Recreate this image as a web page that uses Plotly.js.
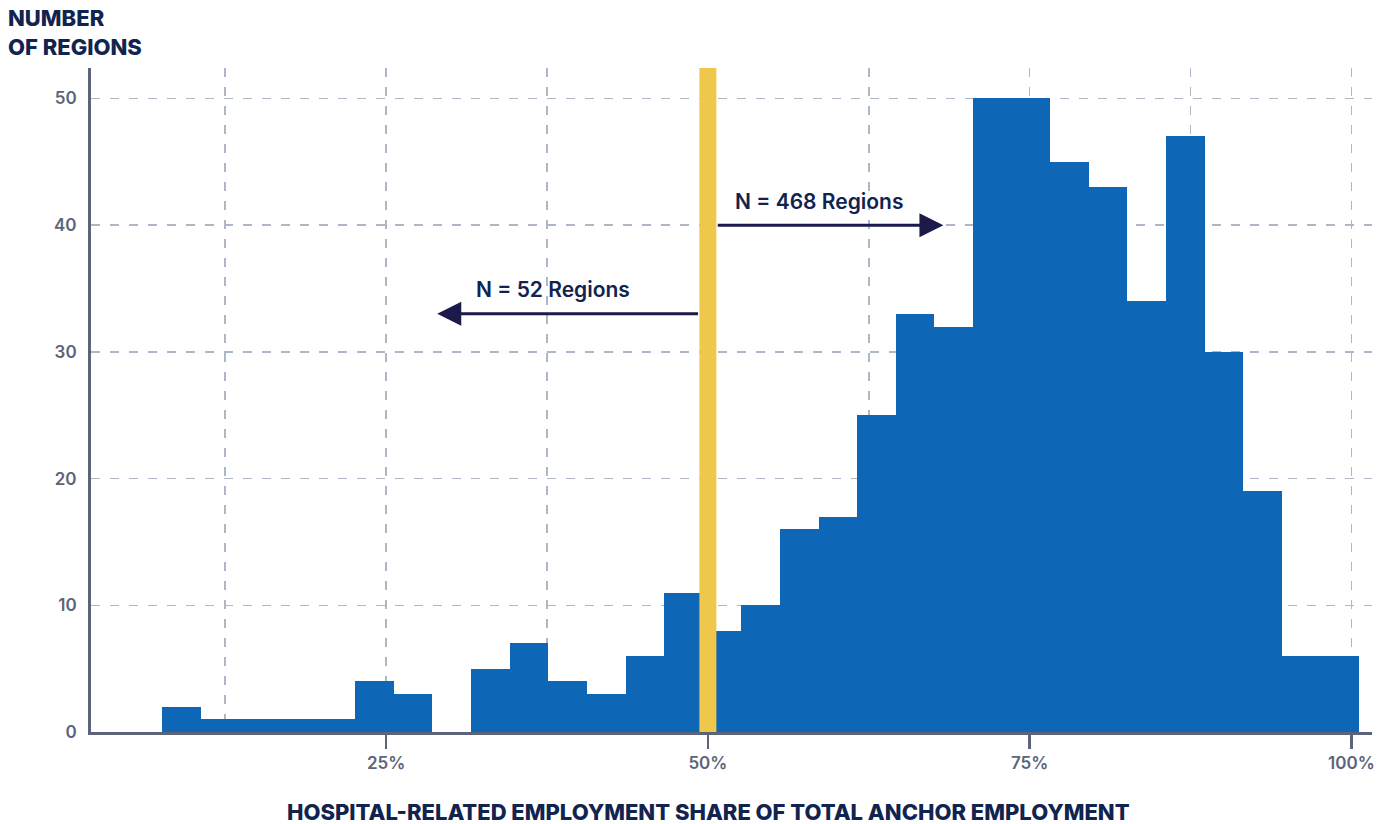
<!DOCTYPE html>
<html>
<head>
<meta charset="utf-8">
<script src="https://cdn.plot.ly/plotly-3.0.1.min.js"></script>
<style>
  html, body { margin: 0; padding: 0; background: #ffffff; }
  #chart { width: 1387px; height: 824px; }
</style>
</head>
<body>
<div id="chart"></div>
<script>
// Histogram of regions by hospital-related share of anchor employment
const binStart = 7.6;          // left edge of the first bin (%)
const binWidth = 3;            // bin width (percentage points)
const regionCounts = [2, 1, 1, 1, 1, 4, 3, 0, 5, 7, 4, 3, 6, 11,
                      8, 10, 16, 17, 25, 33, 32, 50, 50, 45, 43, 34, 47, 30, 19, 6, 6];
const xTickVals = [25, 50, 75, 100];
const xTickText = ['25%', '50%', '75%', '100%'];
const yTickVals = [0, 10, 20, 30, 40, 50];
const threshold = 50;          // split between the two groups (%)
const leftGroupLabel = 'N = 52 Regions';
const rightGroupLabel = 'N = 468 Regions';
const xTitle = 'HOSPITAL-RELATED EMPLOYMENT SHARE OF TOTAL ANCHOR EMPLOYMENT';
const yTitle = 'NUMBER<br>OF REGIONS';

const binLeft = regionCounts.map((_, i) => binStart + i * binWidth);

const FONT = 'Inter, "Open Sans", "DejaVu Sans", sans-serif';
const AXIS = '#5b6479';
const GRID = '#aeb7c7';
const NAVY = '#11234f';
const ARROW = '#1c1a4a';

const trace = {
  type: 'bar',
  x: binLeft,
  y: regionCounts,
  width: binWidth,
  offset: 0,
  marker: { color: '#0e66b6', line: { width: 0 } },
  hoverinfo: 'x+y'
};

const layout = {
  width: 1387,
  height: 824,
  margin: { l: 91, r: 15, t: 68, b: 92 },
  paper_bgcolor: '#ffffff',
  plot_bgcolor: '#ffffff',
  showlegend: false,
  bargap: 0,
  font: { family: FONT },
  xaxis: {
    range: [2.07, 101.6],
    tickmode: 'array',
    tickvals: xTickVals,
    ticktext: xTickText,
    showline: true,
    linecolor: AXIS,
    linewidth: 3,
    ticks: 'outside',
    ticklen: 14,
    tickwidth: 2.5,
    tickcolor: AXIS,
    showgrid: true,
    gridcolor: GRID,
    gridwidth: 1.5,
    griddash: '9px,10px',
    minor: {
      tickmode: 'linear',
      tick0: 0,
      dtick: 12.5,
      showgrid: true,
      gridcolor: GRID,
      gridwidth: 1.5,
      griddash: '9px,10px',
      ticks: ''
    },
    zeroline: false,
    tickfont: { family: FONT, size: 17, color: AXIS, weight: 600 }
  },
  yaxis: {
    range: [0, 52.4],
    tickmode: 'array',
    tickvals: yTickVals,
    showline: true,
    linecolor: AXIS,
    linewidth: 3,
    ticks: '',
    showgrid: true,
    gridcolor: GRID,
    gridwidth: 1.5,
    griddash: '9px,10px',
    zeroline: false,
    ticklabelstandoff: 8,
    tickfont: { family: FONT, size: 17, color: AXIS, weight: 600 }
  },
  shapes: [
    {
      type: 'line', xref: 'x', yref: 'paper',
      x0: threshold, x1: threshold, y0: 0, y1: 1,
      line: { color: '#efc74a', width: 17 },
      layer: 'above'
    }
  ],
  annotations: [
    // horizontal y-axis title in the top-left corner
    {
      xref: 'paper', yref: 'paper', x: -0.0664, y: 1.098,
      xanchor: 'left', yanchor: 'top', align: 'left',
      text: yTitle, showarrow: false,
      font: { family: FONT, size: 22, color: NAVY, weight: 800 }
    },
    // x-axis title under the tick labels
    {
      xref: 'paper', yref: 'paper', x: 0.4824, y: -0.1205,
      xanchor: 'center', yanchor: 'middle',
      text: xTitle, showarrow: false,
      font: { family: FONT, size: 22, color: NAVY, weight: 800 }
    },
    // right-pointing arrow for the group above the threshold
    {
      xref: 'x', yref: 'y', axref: 'x', ayref: 'y',
      x: 68.3, y: 40, ax: 50.65, ay: 40,
      text: '', showarrow: true,
      arrowhead: 2, arrowsize: 1.6, arrowwidth: 3, arrowcolor: ARROW
    },
    {
      xref: 'x', yref: 'y', x: 58.6, y: 41.9,
      text: rightGroupLabel, showarrow: false,
      font: { family: FONT, size: 21, color: NAVY, weight: 600 }
    },
    // left-pointing arrow for the group below the threshold
    {
      xref: 'x', yref: 'y', axref: 'x', ayref: 'y',
      x: 28.97, y: 33, ax: 49.35, ay: 33,
      text: '', showarrow: true,
      arrowhead: 2, arrowsize: 1.6, arrowwidth: 3, arrowcolor: ARROW
    },
    {
      xref: 'x', yref: 'y', x: 37.95, y: 34.9,
      text: leftGroupLabel, showarrow: false,
      font: { family: FONT, size: 21, color: NAVY, weight: 600 }
    }
  ]
};

Plotly.newPlot('chart', [trace], layout, { displayModeBar: false, staticPlot: true });
</script>
</body>
</html>
